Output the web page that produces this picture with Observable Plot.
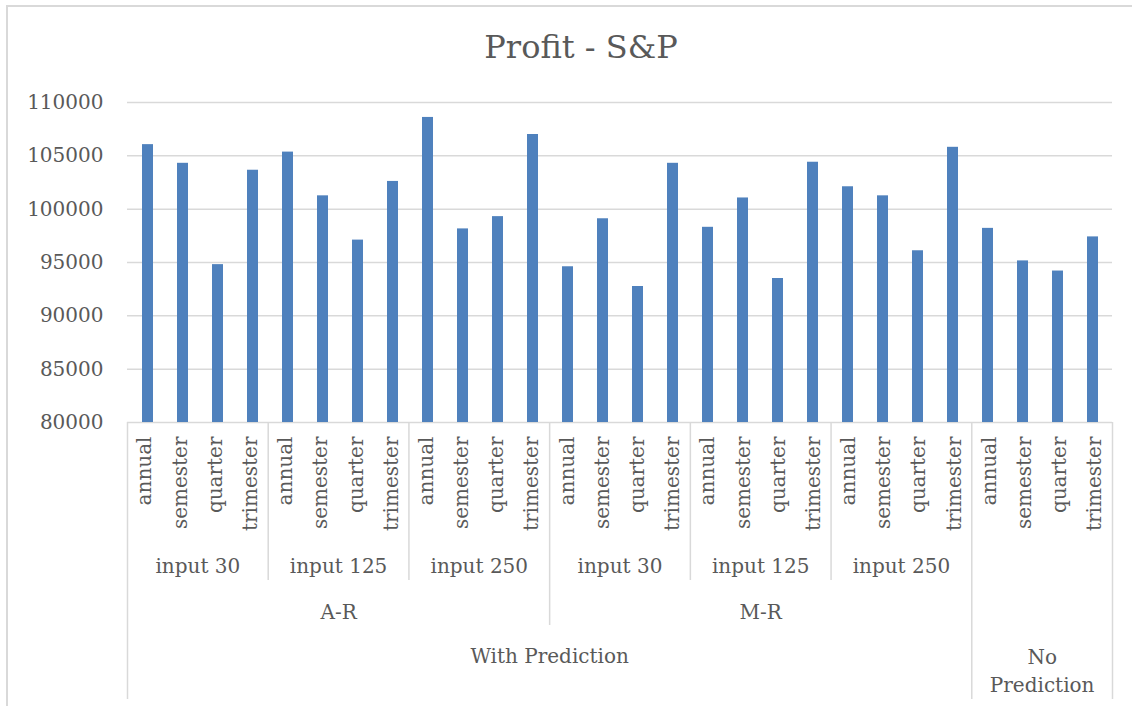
<!DOCTYPE html>
<html><head><meta charset="utf-8">
<script src="https://cdn.jsdelivr.net/npm/d3@7"></script>
<script src="https://cdn.jsdelivr.net/npm/@observablehq/plot@0.6"></script>
<style>
body{margin:0;background:#fff;}
#chart{position:relative;width:1132px;height:706px;overflow:hidden;font-family:"DejaVu Serif";color:#595959;background:#fff;}
#frame{position:absolute;left:6px;top:5px;width:1300px;height:900px;border:2px solid #d9d9d9;box-sizing:border-box}
#title{position:absolute;left:0;top:29px;width:1162px;text-align:center;font-size:32px;line-height:37px;white-space:nowrap}
#main{position:absolute;left:0;top:80px}
#axis{position:absolute;left:0;top:422px}
</style></head><body>
<div id="chart"><div id="frame"></div><div id="title">Profit - S&amp;P</div><div id="main"></div><div id="axis"></div></div>
<script>
const periods = ["annual", "semester", "quarter", "trimester"];
const inputs = ["input 30", "input 125", "input 250", "input 30", "input 125", "input 250", ""];
const models = ["A-R", "A-R", "A-R", "M-R", "M-R", "M-R", ""];
const predictions = ["With Prediction", "With Prediction", "With Prediction", "With Prediction", "With Prediction", "With Prediction", "No Prediction"];
const profit = [
  106050, 104300, 94800, 103650,
  105350, 101250, 97100, 102600,
  108600, 98150, 99300, 107000,
  94600, 99100, 92750, 104300,
  98300, 101050, 93500, 104400,
  102100, 101250, 96100, 105800,
  98200, 95150, 94200, 97400
];
const yTicks = [80000, 85000, 90000, 95000, 100000, 105000, 110000];

const rows = profit.map((v, i) => {
  const g = Math.floor(i / periods.length);
  return {i, key: String(i), period: periods[i % periods.length], input: inputs[g], model: models[g], prediction: predictions[g], value: v};
});

const ink = "#595959", grid = "#d9d9d9";
const common = {width: 1132, marginLeft: 127, marginRight: 20,
  style: {fontFamily: "DejaVu Serif", fontSize: "20px", color: ink, background: "transparent", overflow: "visible"}};

const main = Plot.plot({
  ...common, height: 342, marginTop: 22, marginBottom: 0,
  x: {type: "band", domain: rows.map(d => d.key), padding: 0, axis: null},
  y: {domain: [yTicks[0], yTicks[yTicks.length - 1]]},
  marks: [
    Plot.ruleY(yTicks, {stroke: grid, strokeWidth: 1.5}),
    Plot.axisY({ticks: yTicks, tickSize: 0, tickPadding: 24, tickFormat: d3.format("d"), fontSize: 20, fill: ink, label: null}),
    Plot.barY(rows, {x: "key", y: "value", fill: "#4f81bd", insetLeft: 12, insetRight: 12, clip: true})
  ]
});
document.getElementById("main").appendChild(main);

// hierarchical category axis
function runs(keyFn, labelFn) {
  const out = [];
  rows.forEach((d, i) => {
    const k = keyFn(d), last = out[out.length - 1];
    if (last && last.k === k && last.end === i) last.end = i + 1;
    else out.push({k, label: labelFn(d), start: i, end: i + 1});
  });
  return out.filter(r => r.label);
}
const inputRuns = runs(d => d.prediction + d.model + d.input, d => d.input);
const modelRuns = runs(d => d.prediction + d.model, d => d.model);
const predRuns = runs(d => d.prediction, d => d.prediction);

const depthInput = 158, depthModel = 203, depthFull = 277;
const bounds = [];
for (let b = 0; b <= rows.length; b++) {
  const a = rows[b - 1], c = rows[b];
  let depth = 0;
  if (!a || !c || a.prediction !== c.prediction) depth = depthFull;
  else if (a.model !== c.model) depth = depthModel;
  else if (a.input !== c.input) depth = depthInput;
  if (depth) bounds.push({b, depth});
}

const predSingle = predRuns.filter(r => r.end - r.start > 4);
const predWrapped = predRuns.filter(r => r.end - r.start <= 4).map(r => ({...r, label: r.label.replace(" ", "\n")}));

const axis = Plot.plot({
  ...common, height: 284, marginTop: 0, marginBottom: 0,
  x: {type: "linear", domain: [0, rows.length], axis: null},
  y: {type: "linear", domain: [0, 284], range: [0, 284], axis: null},
  marks: [
    Plot.ruleX(bounds, {x: "b", y1: 0, y2: "depth", stroke: grid, strokeWidth: 1.5}),
    Plot.text(rows, {x: d => d.i + 0.5, frameAnchor: "top", dy: 14, text: "period", rotate: -90, textAnchor: "end", lineAnchor: "middle", fill: ink, fontSize: 20}),
    Plot.text(inputRuns, {x: d => (d.start + d.end) / 2, frameAnchor: "top", dy: 144, text: "label", lineAnchor: "middle", fill: ink, fontSize: 20}),
    Plot.text(modelRuns, {x: d => (d.start + d.end) / 2, frameAnchor: "top", dy: 190, text: "label", lineAnchor: "middle", fill: ink, fontSize: 20}),
    Plot.text(predSingle, {x: d => (d.start + d.end) / 2, frameAnchor: "top", dy: 234, text: "label", lineAnchor: "middle", fill: ink, fontSize: 20}),
    Plot.text(predWrapped, {x: d => (d.start + d.end) / 2, frameAnchor: "top", dy: 247, text: "label", lineAnchor: "middle", lineHeight: 1.4, fill: ink, fontSize: 20})
  ]
});
document.getElementById("axis").appendChild(axis);
</script>
</body></html>
